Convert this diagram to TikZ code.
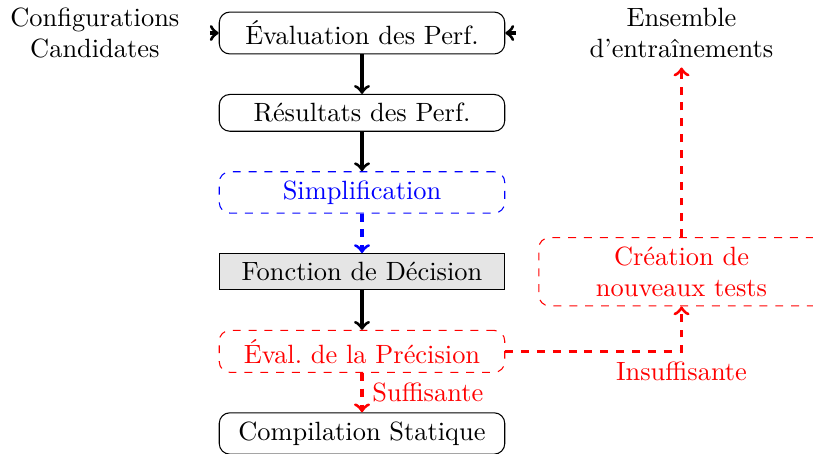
\documentclass[tikz,border=0pt]{standalone}
\usepackage{tikz}
\usetikzlibrary{positioning}

\begin{document}
\begin{tikzpicture}[
      node distance=5.25mm and 4mm,
      state/.style={draw, rounded corners, minimum width=38mm, align=center},
      trans/.style={->, very thick},
      note/.style={align=center}
    ]

    \useasboundingbox (-137.1pt,12.5pt) rectangle (170.8pt,-159.1pt);

    \node[state] (eval) {Évaluation des Perf.};
    \node[state, below=of eval] (result) {Résultats des Perf.};
    \node[state, below=of result, blue, dashed] (simpl) {Simplification};
    \node[state, below=of simpl, rounded corners=0pt, fill=black!10] (decision) {Fonction de Décision};
    \node[state, below=of decision, red, dashed] (precision) {Éval.\ de la Précision};
    \node[state, below=of precision] (compil) {Compilation Statique};

    \node[note, left=of eval] (config) {Configurations\\Candidates};
    \node[note, right=10mm of eval] (ensemble) {Ensemble\\d'entraînements};
    \node[state, red, dashed] (creation) at (ensemble |- decision) {Création de\\nouveaux tests};

    \draw[trans, shorten <=8pt] (config) -- (eval);
    \draw[trans, shorten <=24.5pt] (ensemble) -- (eval);
    \draw[trans] (eval) -- (result);
    \draw[trans] (result) -- (simpl);
    \draw[trans, blue, dashed] (simpl) -- (decision);
    \draw[trans] (decision) -- (precision);
    \draw[trans, red, dashed] (precision) -- node[note, right] {Suffisante} (compil);
    \draw[trans, red, dashed] (precision) -| node[note, below] {Insuffisante} (creation);
    \draw[trans, red, dashed] (creation) -- (ensemble);

  \end{tikzpicture}
\end{document}
